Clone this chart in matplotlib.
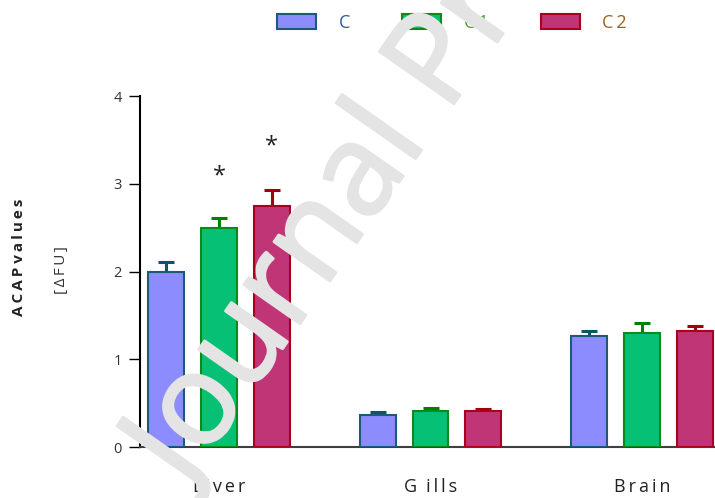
import matplotlib
matplotlib.use("Agg")
import matplotlib.pyplot as plt
import matplotlib.patheffects as pe
import numpy as np

plt.rcParams['font.family'] = ['Open Sans', 'DejaVu Sans']

# values
tissues = ["Liver", "Gills", "Brain"]
groups = ["C", "C1", "C2"]
means_c = [2.00, 0.36, 1.26]
means_c1 = [2.50, 0.41, 1.30]
means_c2 = [2.75, 0.41, 1.32]
err_c = [0.11, 0.04, 0.06]
err_c1 = [0.11, 0.03, 0.11]
err_c2 = [0.18, 0.02, 0.06]
star_y = [3.02, 3.36]          # significance marks above Liver C1 / C2
tick_labels = ["L\u2009i\u2009v\u2009e\u2009r", "G\u2002i\u2009l\u2009l\u2009s",
               "B\u2009r\u2009a\u2009i\u2009n"]
legend_labels = ["C", "C\u20091", "C\u20092"]

fills = ["#8c8cff", "#06c075", "#c03575"]
edges = ["#1c5a78", "#0a8a1a", "#a8001e"]
errcols = ["#0c5468", "#008000", "#a00010"]
labcols = ["#2b5aa0", "#5a9a30", "#a06020"]

fig = plt.figure(figsize=(7.15, 4.98), dpi=100)
ax = fig.add_axes([140 / 715, 0.1024, 1 - 140 / 715, 0.7048])

x = np.arange(len(tissues))
width = 0.17
offsets = [-0.25, 0.0, 0.25]
handles = []
for means, errs, off, fc, ec, erc in zip([means_c, means_c1, means_c2],
                                         [err_c, err_c1, err_c2],
                                         offsets, fills, edges, errcols):
    b = ax.bar(x + off, means, width, color=fc, edgecolor=ec, linewidth=1.5,
               zorder=3)
    ax.errorbar(x + off, means, yerr=[np.zeros(len(errs)), errs], fmt='none',
                ecolor=erc, elinewidth=2.2, capsize=6, capthick=2.2, zorder=2)
    handles.append(b)

for xs, ys in zip([x[0], x[0] + 0.25], star_y):
    ax.text(xs, ys, "*", ha='center', va='baseline', fontsize=17,
            color='#222222', zorder=4)

ax.set_xlim(-0.3735, 2.345)
ax.set_ylim(0, 4)
ax.set_yticks([0, 1, 2, 3, 4])
ax.set_xticks(x)
ax.set_xticklabels(tick_labels, fontsize=13, color='#222222')
ax.tick_params(axis='x', length=0, pad=22)
ax.tick_params(axis='y', length=8, width=1, pad=5, labelsize=10.5,
               labelcolor='#333333')
for s in ['top', 'right']:
    ax.spines[s].set_visible(False)
ax.spines['left'].set_linewidth(1.5)
ax.spines['bottom'].set_linewidth(1.5)
ax.spines['bottom'].set_color('#404040')

fig.text(19 / 715, 1 - 257 / 498,
         "A\u2009C\u2009A\u2009P v\u2009a\u2009l\u2009u\u2009e\u2009s",
         rotation=90, ha='center', va='center', fontsize=11, fontweight='bold',
         color='#222222')
fig.text(62 / 715, 1 - 270 / 498, "[\u2009\u0394\u2009F\u2009U\u2009]", rotation=90,
         ha='center', va='center', fontsize=11, color='#333333')

leg = fig.legend(handles, legend_labels, loc='center left',
                 bbox_to_anchor=(277 / 715, 1 - 23 / 498), ncol=3, frameon=False,
                 fontsize=13, handlelength=2.16, handleheight=0.93,
                 handletextpad=1.24, columnspacing=2.9, borderpad=0,
                 borderaxespad=0)
for t, c in zip(leg.get_texts(), labcols):
    t.set_color(c)

# watermark
wm_col = '#e4e4e4'
fig.text(185 / 715, 1 - 488 / 498, "Journal Pre-proof", rotation=55,
         rotation_mode='anchor', ha='left', va='baseline', fontsize=92,
         color=wm_col, zorder=10,
         path_effects=[pe.withStroke(linewidth=2, foreground=wm_col)])

fig.savefig("out.png", dpi=100)
